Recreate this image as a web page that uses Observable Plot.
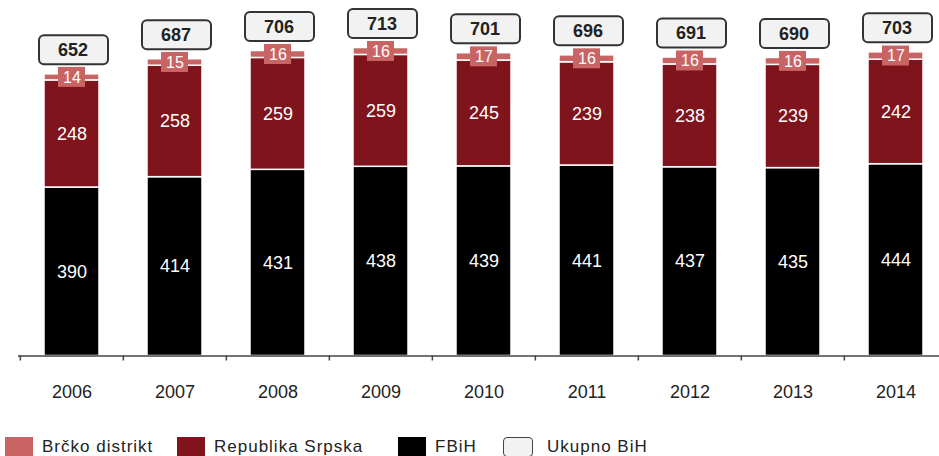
<!DOCTYPE html>
<html>
<head>
<meta charset="utf-8">
<script src="https://cdn.jsdelivr.net/npm/d3@7"></script>
<script src="https://cdn.jsdelivr.net/npm/@observablehq/plot@0.6"></script>
<style>
  body { margin: 0; background: #fff; font-family: "Liberation Sans", Arial, sans-serif; }
  #chart svg { display: block; }
  #legend { position: relative; height: 26px; margin-top: 7px; font-size: 17px; color: #222; letter-spacing: 1px; }
  .item { position: absolute; top: 0; display: flex; align-items: center; height: 20px; white-space: nowrap; }
  .sw { width: 28px; height: 20px; margin-right: 9px; box-sizing: border-box; }
</style>
</head>
<body>
<div id="chart"></div>
<div id="legend"></div>
<script>
// ---- data ----
const years = ["2006", "2007", "2008", "2009", "2010", "2011", "2012", "2013", "2014"];
const fbih = [390, 414, 431, 438, 439, 441, 437, 435, 444];
const rs = [248, 258, 259, 259, 245, 239, 238, 239, 242];
const brcko = [14, 15, 16, 16, 17, 16, 16, 16, 17];
const total = [652, 687, 706, 713, 701, 696, 691, 690, 703];
const seriesNames = ["Brčko distrikt", "Republika Srpska", "FBiH", "Ukupno BiH"];
const seriesColors = ["#c86464", "#7f141d", "#000000", "#f2f2f2"];

const rows = years.map((year, i) => ({year, fbih: fbih[i], rs: rs[i], brcko: brcko[i], total: total[i]}));
const segs = rows.flatMap(d => [
  {year: d.year, series: "FBiH", y1: 0, y2: d.fbih, v: d.fbih},
  {year: d.year, series: "Republika Srpska", y1: d.fbih, y2: d.fbih + d.rs, v: d.rs},
  {year: d.year, series: "Brčko distrikt", y1: d.fbih + d.rs, y2: d.fbih + d.rs + d.brcko, v: d.brcko}
]);
const brMid = d => d.fbih + d.rs + d.brcko / 2;

const chart = Plot.plot({
  width: 939,
  height: 430,
  marginTop: 0,
  marginLeft: 18,
  marginRight: 0,
  marginBottom: 74.5,
  style: {fontFamily: "'Liberation Sans', Arial, sans-serif", background: "#fff"},
  x: {domain: years, range: [18.3, 948], paddingInner: 0.47, paddingOuter: 0.235, label: null},
  y: {domain: [0, 823], axis: null},
  color: {domain: seriesNames, range: seriesColors},
  marks: [
    Plot.barY(segs, {x: "year", y1: "y1", y2: "y2", fill: "series", stroke: "white", strokeWidth: 1.5}),
    Plot.text(segs.filter(d => d.series !== "Brčko distrikt"), {
      x: "year", y: d => (d.y1 + d.y2) / 2, text: "v", fill: "white", fontSize: 18
    }),
    Plot.barY(rows, {
      x: "year", y1: brMid, y2: brMid, fill: "#c86464",
      insetLeft: 14, insetRight: 14, insetTop: -10, insetBottom: -10
    }),
    Plot.text(rows, {x: "year", y: brMid, text: "brcko", fill: "white", fontSize: 16}),
    Plot.barY(rows, {
      x: "year", y1: "total", y2: "total", fill: "#f2f2f2", stroke: "#333", strokeWidth: 2, rx: 5,
      insetLeft: -5, insetRight: -9, insetTop: -38.5, insetBottom: 9.5
    }),
    Plot.text(rows, {x: "year", y: "total", dy: -24, dx: 1, text: "total", fontWeight: "bold", fontSize: 18, fill: "#222"}),
    Plot.ruleY([0], {stroke: "#444", strokeWidth: 1.5}),
    Plot.ruleX(years, {x: d => d, y1: 0, y2: 0, dx: -51.65, insetBottom: -5, stroke: "#444", strokeWidth: 1.5}),
    Plot.axisX({tickSize: 0, tickPadding: 29, fontSize: 18, color: "#222", label: null})
  ]
});
document.getElementById("chart").appendChild(chart);

// ---- legend ----
const legendLeft = [5, 177, 398, 503];
const legend = document.getElementById("legend");
seriesNames.forEach((name, i) => {
  const item = document.createElement("div");
  item.className = "item";
  item.style.left = legendLeft[i] + "px";
  const sw = document.createElement("div");
  sw.className = "sw";
  sw.style.background = seriesColors[i];
  if (name === "Ukupno BiH") {
    sw.style.border = "1.5px solid #444";
    sw.style.borderRadius = "4px";
    sw.style.width = "30px";
    sw.style.marginRight = "14px";
  }
  const label = document.createElement("span");
  label.textContent = name;
  item.appendChild(sw);
  item.appendChild(label);
  legend.appendChild(item);
});
</script>
</body>
</html>
